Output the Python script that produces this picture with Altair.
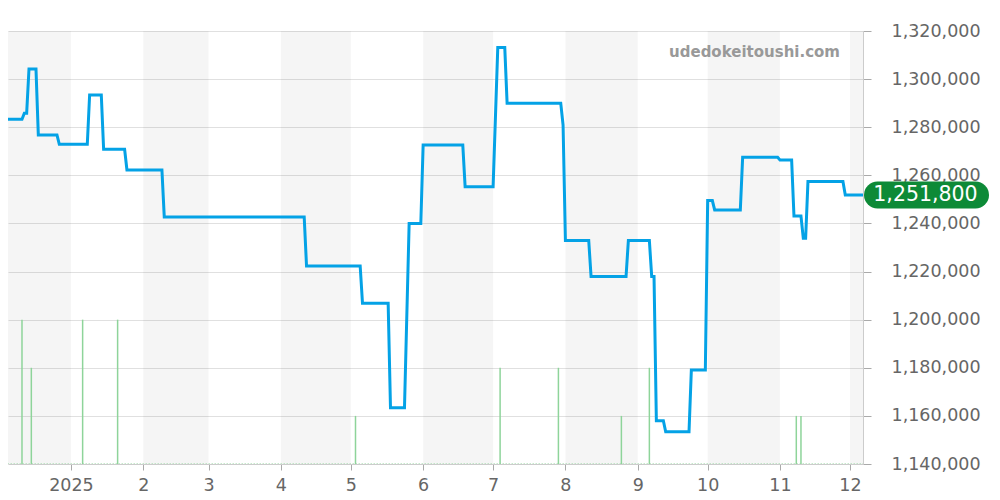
import altair as alt
import pandas as pd

# ---- price series (step-like history) ----
price_dates = [
    "2024-12-01", "2024-12-11", "2024-12-12", "2024-12-13", "2024-12-14", "2024-12-17",
    "2024-12-18", "2024-12-26", "2024-12-27", "2025-01-08", "2025-01-09", "2025-01-14",
    "2025-01-15", "2025-01-24", "2025-01-25", "2025-02-09", "2025-02-10", "2025-04-11",
    "2025-04-12", "2025-05-05", "2025-05-06", "2025-05-17", "2025-05-18", "2025-05-24",
    "2025-05-26", "2025-05-31", "2025-06-01", "2025-06-18", "2025-06-19", "2025-07-01",
    "2025-07-03", "2025-07-06", "2025-07-07", "2025-07-30", "2025-07-31", "2025-08-01",
    "2025-08-11", "2025-08-12", "2025-08-27", "2025-08-28", "2025-09-06", "2025-09-07",
    "2025-09-08", "2025-09-09", "2025-09-12", "2025-09-13", "2025-09-23", "2025-09-24",
    "2025-09-30", "2025-10-01", "2025-10-03", "2025-10-04", "2025-10-15", "2025-10-16",
    "2025-10-31", "2025-11-01", "2025-11-06", "2025-11-07", "2025-11-10", "2025-11-11",
    "2025-11-12", "2025-11-13", "2025-11-28", "2025-11-29", "2025-12-07",
]
price_values = [
    1283300, 1283300, 1285800, 1285800, 1304200, 1304200,
    1276800, 1276800, 1272900, 1272900, 1293400, 1293400,
    1270800, 1270800, 1262200, 1262200, 1242700, 1242700,
    1222300, 1222300, 1206800, 1206800, 1163400, 1163400,
    1240000, 1240000, 1272600, 1272600, 1255300, 1255300,
    1313100, 1313100, 1290000, 1290000, 1280900, 1232900,
    1232900, 1217900, 1217900, 1232900, 1232900, 1217900,
    1217900, 1158000, 1158000, 1153400, 1153400, 1179100,
    1179100, 1249500, 1249500, 1245600, 1245600, 1267500,
    1267500, 1266400, 1266400, 1243100, 1243100, 1233800,
    1233800, 1257400, 1257400, 1251800, 1251800,
]

# ---- transaction counts (green bars) ----
vol_dates = ["2024-12-11", "2024-12-15", "2025-01-06", "2025-01-21", "2025-05-03",
             "2025-07-04", "2025-07-29", "2025-08-25", "2025-09-06", "2025-11-08", "2025-11-10"]
vol_counts = [3, 2, 3, 3, 1, 2, 2, 1, 2, 1, 1]

# ---- alternating month bands ----
band_starts = ["2024-12-01", "2025-02-01", "2025-04-01", "2025-06-01", "2025-08-01", "2025-10-01", "2025-12-01"]
band_ends = ["2025-01-01", "2025-03-01", "2025-05-01", "2025-07-01", "2025-09-01", "2025-11-01", "2026-01-01"]

y_ticks = list(range(1140000, 1320001, 20000))
y_min, y_max = 1140000, 1320000
last_price = 1251800
watermark = "udedokeitoushi.com"

price_df = pd.DataFrame({"date": price_dates, "price": price_values})
vol_df = pd.DataFrame({"date": vol_dates, "count": vol_counts})
band_df = pd.DataFrame({"start": band_starts, "end": band_ends})
base_df = pd.DataFrame({"start": ["2024-12-01"], "end": ["2025-12-31"]})
last_df = pd.DataFrame({"price": [last_price]})
wm_df = pd.DataFrame({"t": [watermark]})

x_scale = alt.Scale(
    type="utc",
    domain=[alt.DateTime(year=2024, month=12, date=5, utc=True),
            alt.DateTime(year=2025, month=12, date=6, hours=14, minutes=24, utc=True)],
    nice=False,
)
y_scale = alt.Scale(domain=[y_min, y_max], nice=False, zero=False)

x_axis = alt.Axis(
    title=None,
    grid=False,
    tickCount=alt.TimeIntervalStep(interval="month", step=1),
    labelExpr="utcmonth(datum.value) == 0 ? '' + utcyear(datum.value) : '' + (utcmonth(datum.value) + 1)",
    labelFontSize=17.5,
    labelColor="#666666",
    labelPadding=6,
    tickSize=6,
    tickColor="#aaaaaa",
    domainColor="#cccccc",
    labelFont="DejaVu Sans",
)
y_axis = alt.Axis(
    orient="right",
    title=None,
    values=y_ticks,
    labelExpr="format(datum.value, ',')",
    grid=True,
    gridColor="#e0e0e0",
    gridWidth=1,
    labelFontSize=17.5,
    labelColor="#666666",
    labelPadding=20,
    tickSize=8,
    tickColor="#aaaaaa",
    domainColor="#cccccc",
    labelFont="DejaVu Sans",
)

bands = alt.Chart(band_df).mark_rect(color="black", opacity=0.04, clip=True).encode(
    x=alt.X("start:T", scale=x_scale, axis=x_axis),
    x2="end:T",
    y=alt.Y(datum=y_max, type="quantitative", scale=y_scale, axis=y_axis),
    y2=alt.datum(y_min),
)

vol = alt.Chart(vol_df).transform_calculate(
    top=f"{y_min} + datum.count * 20000"
).mark_rule(color="#8ed49a", strokeWidth=1.5, clip=True).encode(
    x=alt.X("date:T", scale=x_scale, axis=x_axis),
    y=alt.Y("top:Q", scale=y_scale, axis=y_axis),
    y2=alt.datum(y_min),
)

baseline = alt.Chart(base_df).mark_rule(
    color="#8ed49a", strokeWidth=1.5, strokeDash=[1, 2], clip=True
).encode(
    x=alt.X("start:T", scale=x_scale, axis=x_axis),
    x2="end:T",
    y=alt.Y(datum=y_min, type="quantitative", scale=y_scale, axis=y_axis),
)

line = alt.Chart(price_df).mark_line(color="#04a2e6", strokeWidth=3, clip=True).encode(
    x=alt.X("date:T", scale=x_scale, axis=x_axis),
    y=alt.Y("price:Q", scale=y_scale, axis=y_axis),
)

pill = alt.Chart(last_df).mark_rule(strokeWidth=27, strokeCap="round", color="#0d8a37").encode(
    x=alt.value(869.5),
    x2=alt.value(967.5),
    y=alt.Y("price:Q", scale=y_scale, axis=y_axis),
)
pill_text = alt.Chart(last_df).mark_text(
    color="white", fontSize=20.5, font="DejaVu Sans", align="center", baseline="middle"
).encode(
    x=alt.value(917.5),
    y=alt.Y("price:Q", scale=y_scale, axis=y_axis),
    text=alt.Text("price:Q", format=","),
)

wm = alt.Chart(wm_df).mark_text(
    fontSize=15, fontWeight="bold", color="#999999", align="right", baseline="middle", font="DejaVu Sans"
).encode(
    x=alt.value(832),
    y=alt.value(21),
    text="t:N",
)

chart = alt.layer(bands, vol, baseline, line, pill, pill_text, wm).properties(
    width=855,
    height=433,
    padding={"left": 0, "top": 14, "right": 2, "bottom": 2},
    background="white",
).configure_view(stroke=None)

chart.save("out.html", embed_options={"renderer": "svg", "actions": False})
